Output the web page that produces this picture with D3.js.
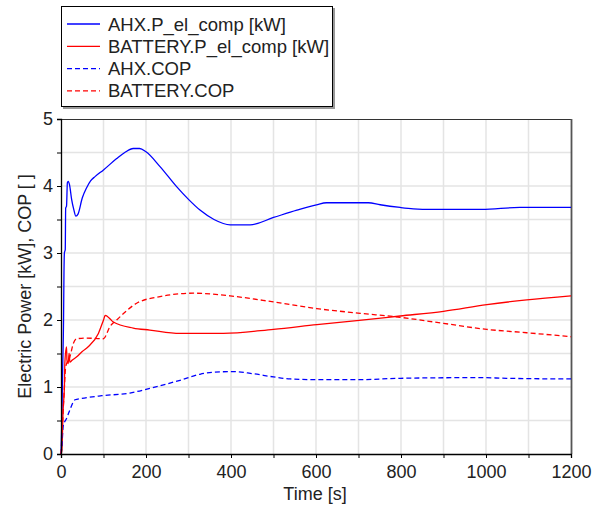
<!DOCTYPE html>
<html><head><meta charset="utf-8">
<script src="https://cdn.jsdelivr.net/npm/d3@7"></script>
<style>body{margin:0;background:#fff}svg{display:block}text{font-family:"Liberation Sans",Arial,sans-serif;fill:#222}</style>
</head><body><svg id="c" width="606" height="506"></svg>
<script>
const seriesNames = ["AHX.P_el_comp [kW]","BATTERY.P_el_comp [kW]","AHX.COP","BATTERY.COP"];
const seriesColors = ["#0000ff","#ff0000","#0000ff","#ff0000"];
const seriesDashed = [false,false,true,true];
const xTicks = [0,200,400,600,800,1000,1200];
const yTicks = [0,1,2,3,4,5];
const ahxPower = [[0,0],[2,0.5],[4,1.3],[6,2.0],[7,2.7],[8,3.0],[10,3.05],[11,3.67],[13,3.7],[15,4.05],[17,4.07],[20,4.02],[25,3.8],[30,3.65],[35,3.55],[40,3.58],[50,3.82],[60,3.97],[70,4.08],[80,4.14],[100,4.24],[131,4.41],[150,4.5],[170,4.56],[185,4.56],[200,4.51],[233,4.29],[272,3.99],[300,3.8],[327,3.64],[360,3.5],[398,3.42],[445,3.42],[500,3.53],[555,3.64],[601,3.72],[625,3.75],[723,3.75],[751,3.72],[798,3.68],[829,3.66],[872,3.65],[990,3.65],[1080,3.68],[1200,3.68]];
const batPower = [[0,0],[2,0.05],[5,0.66],[8,1.0],[9,1.35],[13,1.6],[14,1.4],[17,1.35],[19,1.5],[21,1.37],[26,1.4],[37,1.45],[50,1.53],[64,1.6],[88,1.8],[100,2.0],[104,2.07],[115,2.02],[123,1.97],[170,1.88],[209,1.85],[280,1.8],[382,1.8],[500,1.86],[602,1.93],[696,1.99],[798,2.06],[900,2.13],[1002,2.23],[1096,2.3],[1200,2.36]];
const ahxCop = [[0,0],[2,0.1],[5,0.41],[13,0.53],[21,0.66],[33,0.81],[49,0.83],[96,0.87],[162,0.91],[209,0.98],[280,1.1],[327,1.19],[358,1.22],[406,1.23],[450,1.2],[500,1.15],[539,1.12],[602,1.11],[704,1.11],[798,1.13],[986,1.14],[1048,1.13],[1200,1.12]];
const batCop = [[0,0],[4,0.5],[8,1.0],[11,1.3],[21,1.45],[29,1.65],[37,1.72],[60,1.73],[100,1.72],[115,1.9],[131,2.0],[178,2.25],[233,2.35],[311,2.4],[398,2.36],[500,2.27],[602,2.17],[704,2.1],[798,2.04],[900,1.95],[1002,1.86],[1096,1.81],[1200,1.75]];
const allSeries = [ahxPower, batPower, ahxCop, batCop];

const svg = d3.select("#c");
const L=61,R=571,T=119,B=454;
const x = d3.scaleLinear().domain([0,1200]).range([L,R]);
const y = d3.scaleLinear().domain([0,5]).range([B,T]);

// grid
const g = svg.append("g");
g.selectAll(".gx").data(d3.range(100,1200,100)).join("line")
 .attr("x1",d=>x(d)).attr("x2",d=>x(d)).attr("y1",T).attr("y2",B)
 .attr("stroke","#e4e4e4").attr("stroke-width",1.5);
g.selectAll(".gy").data(d3.range(0.5,5,0.5)).join("line")
 .attr("y1",d=>y(d)).attr("y2",d=>y(d)).attr("x1",L).attr("x2",R)
 .attr("stroke","#e4e4e4").attr("stroke-width",1.5);

// frame top/right
svg.append("line").attr("x1",L).attr("x2",R).attr("y1",T+0.5).attr("y2",T+0.5).attr("stroke","#333").attr("stroke-width",1.2);
svg.append("line").attr("x1",R+0.5).attr("x2",R+0.5).attr("y1",T).attr("y2",B).attr("stroke","#555").attr("stroke-width",1.8);

// lines
const line = d3.line().curve(d3.curveMonotoneX).x(d=>x(d[0])).y(d=>y(d[1]));
allSeries.forEach((s,i)=>{
  svg.append("path").datum(s).attr("d",line).attr("fill","none")
   .attr("stroke",seriesColors[i]).attr("stroke-width",1.3)
   .attr("stroke-dasharray",seriesDashed[i]?"5,3":null);
});

// axes
const xAxis = d3.axisBottom(x).tickValues(d3.range(0,1201,100)).tickSize(4).tickFormat(d=>xTicks.includes(d)?d:"");
const ax = svg.append("g").attr("transform",`translate(0,${B})`).call(xAxis);
ax.select(".domain").attr("stroke","#000").attr("stroke-width",1.3);
ax.selectAll(".tick line").attr("stroke","#000");
ax.selectAll("text").attr("font-size",18).attr("dy","0.95em").attr("font-family","Liberation Sans, Arial").attr("fill","#333");
const yAxis = d3.axisLeft(y).tickValues(d3.range(0,5.01,0.5)).tickSize(4).tickFormat(d=>yTicks.includes(d)?d:"");
const ay = svg.append("g").attr("transform",`translate(${L},0)`).call(yAxis);
ay.select(".domain").attr("stroke","#000").attr("stroke-width",1.3);
ay.selectAll(".tick line").attr("stroke","#000");
ay.selectAll("text").attr("font-size",18).attr("x",-8).attr("font-family","Liberation Sans, Arial").attr("fill","#333");

svg.append("text").attr("x",(L+R)/2-1).attr("y",500).attr("text-anchor","middle").attr("font-size",18).text("Time [s]");
svg.append("text").attr("transform",`translate(31,${(T+B)/2}) rotate(-90)`).attr("text-anchor","middle").attr("font-size",18).text("Electric Power [kW], COP [ ]");

// legend
const lg = svg.append("g");
lg.append("rect").attr("x",63).attr("y",8).attr("width",272).attr("height",101).attr("fill","#999");
lg.append("rect").attr("x",61.5).attr("y",6.5).attr("width",271).attr("height",100).attr("fill","#fff").attr("stroke","#000").attr("stroke-width",1);
seriesNames.forEach((n,i)=>{
  const yy = 24 + i*22.3;
  lg.append("line").attr("x1",67).attr("x2",100).attr("y1",yy).attr("y2",yy)
   .attr("stroke",seriesColors[i]).attr("stroke-width",1.3).attr("stroke-dasharray",seriesDashed[i]?"5,3":null);
  lg.append("text").attr("x",108).attr("y",31+i*22).attr("font-size",18.5).text(n);
});
</script></body></html>
